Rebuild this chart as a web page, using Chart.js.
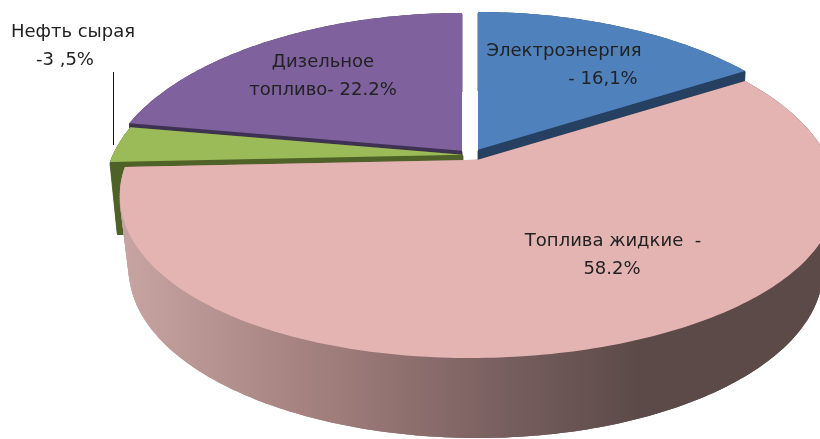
<!DOCTYPE html>
<html><head><meta charset="utf-8">
<style>html,body{margin:0;padding:0;background:#fff}canvas{display:block}</style>
<script src="https://cdn.jsdelivr.net/npm/chart.js@4"></script>
</head><body><canvas id="c" width="820" height="439"></canvas>
<script>
const categories = ['Электроэнергия','Топлива жидкие','Нефть сырая','Дизельное топливо'];
const shares = [16.1,58.2,3.5,22.2];
const topColors = ['#4f81bd','#e4b4b3','#9bbb59','#7f619e'];
const wallColors = ['#254061','#8f6f6e','#4f6228','#3f3151'];
const shiftX = [0,0,-15,-16];
const shiftY = [-10,0,-5,-9];
const wallTrim = [0,0,-7,0];
const drawOrder = [3,2,0,1];
const labelLines = [
  ['Нефть сырая',73,32],['-3 ,5%',65,60],
  ['Дизельное',323,62],['топливо- 22.2%',323,90],
  ['Электроэнергия',564,51],['- 16,1%',603,79],
  ['Топлива жидкие  -',613,241],['58.2%',612,269]
];
// projected disc: top face and the smaller base below it
const view = {ax:478, cy:190, rx:356, ry:168, baseCy:270, baseRx:347, baseSkew:2, p:-0.18, taper:0.03, lean:-8};

function place(xn, yn, base, i){
  if(base){
    return [view.ax + shiftX[i] + view.baseRx*xn - view.baseSkew*Math.abs(xn),
            view.baseCy + wallTrim[i] + shiftY[i] + view.ry*yn];
  }
  const w = view.rx * (1 + view.taper*(yn-view.p));
  const s = Math.max(0,yn);
  return [view.ax + shiftX[i] + w*xn + view.lean*s*s,
          view.cy + shiftY[i] + view.ry*yn];
}
function project(angle, base, i){
  const u = Math.cos(angle), v = Math.sin(angle), p = view.p;
  const d = 1 + p*v;
  return place(u*Math.sqrt(1-p*p)/d, (v+p)/d, base, i);
}
function outline(arc, base, i){
  const pts = [place(0, view.p, base, i)];
  const n = Math.max(8, Math.ceil((arc.endAngle-arc.startAngle)*60));
  for(let k=0;k<=n;k++){
    pts.push(project(arc.startAngle+(arc.endAngle-arc.startAngle)*k/n, base, i));
  }
  return pts;
}
function fillPoly(ctx, pts){
  ctx.beginPath();
  pts.forEach((q,k)=> k?ctx.lineTo(q[0],q[1]):ctx.moveTo(q[0],q[1]));
  ctx.closePath();
  ctx.fill();
}
const pie3d = {
  id:'pie3d',
  beforeDatasetDraw(chart){
    const ctx = chart.ctx, arcs = chart.getDatasetMeta(0).data;
    ctx.save();
    drawOrder.forEach(i=>{
      const top = outline(arcs[i],false,i), low = outline(arcs[i],true,i);
      let wall = wallColors[i];
      if(i===1){
        wall = ctx.createLinearGradient(125,0,640,0);
        wall.addColorStop(0,'#c7a4a2');
        wall.addColorStop(0.35,'#a5827f');
        wall.addColorStop(0.72,'#7a6060');
        wall.addColorStop(1,'#5b4a48');
      }
      ctx.fillStyle = wall; ctx.strokeStyle = wall; ctx.lineWidth = 0.8;
      fillPoly(ctx, low);
      for(let k=0;k<top.length;k++){
        const m=(k+1)%top.length;
        fillPoly(ctx,[top[k],top[m],low[m],low[k]]);
        ctx.beginPath();
        ctx.moveTo(top[k][0],top[k][1]+1);
        ctx.lineTo(low[k][0],low[k][1]-1);
        ctx.stroke();
      }
      ctx.fillStyle = topColors[i];
      fillPoly(ctx, top);
    });
    ctx.restore();
    return false;
  },
  afterDraw(chart){
    const ctx = chart.ctx;
    ctx.save();
    ctx.strokeStyle='#111'; ctx.lineWidth=1;
    ctx.beginPath(); ctx.moveTo(113.5,72); ctx.lineTo(113.5,145); ctx.stroke();
    ctx.fillStyle='#222'; ctx.font='18px "DejaVu Sans"';
    ctx.textAlign='center'; ctx.textBaseline='middle';
    labelLines.forEach(l=>ctx.fillText(l[0],l[1],l[2]));
    ctx.restore();
  }
};
new Chart(document.getElementById('c'),{
  type:'pie',
  data:{labels:categories,datasets:[{data:shares,backgroundColor:topColors,borderWidth:0}]},
  options:{responsive:false,animation:false,
    plugins:{legend:{display:false},tooltip:{enabled:false},title:{display:false}}},
  plugins:[pie3d]
});
</script></body></html>
